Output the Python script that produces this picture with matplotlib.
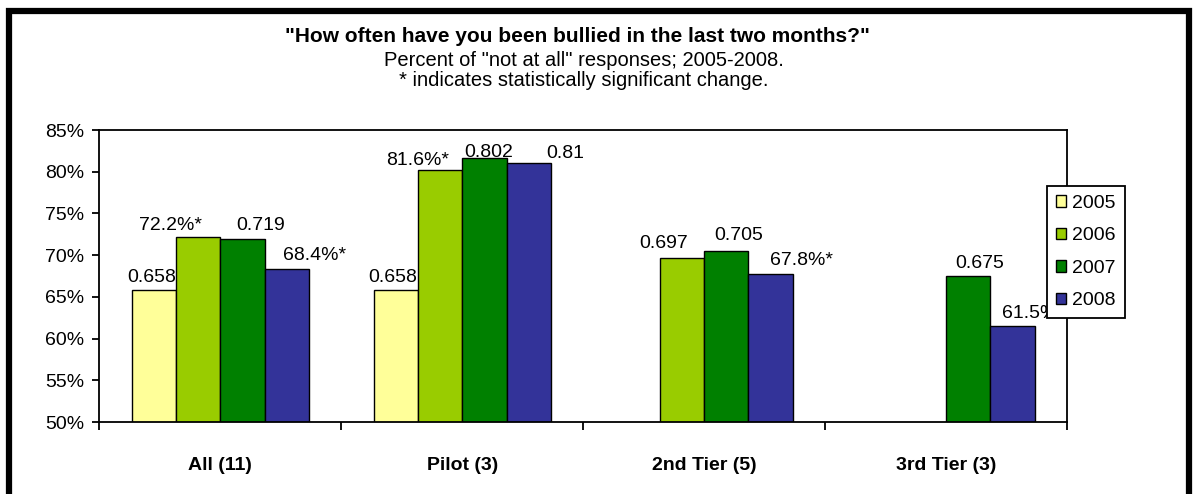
import matplotlib.pyplot as plt
import matplotlib.patches as patches
import numpy as np

plt.rcParams['font.family'] = ['Liberation Sans', 'DejaVu Sans']

categories = ['All (11)', 'Pilot (3)', '2nd Tier (5)', '3rd Tier (3)']
years = ['2005', '2006', '2007', '2008']
colors = ['#FFFF99', '#99CC00', '#008000', '#333399']

# bar heights per year (nan = no bar)
v2005 = [0.658, 0.658, np.nan, np.nan]
v2006 = [0.722, 0.802, 0.697, np.nan]
v2007 = [0.719, 0.816, 0.705, 0.675]
v2008 = [0.684, 0.810, 0.678, 0.615]

# data labels as printed on the chart
l2005 = ['0.658', '0.658', None, None]
l2006 = ['72.2%*', '81.6%*', '0.697', None]
l2007 = ['0.719', '0.802', '0.705', '0.675']
l2008 = ['68.4%*', '0.81', '67.8%*', '61.5%*']

values = [v2005, v2006, v2007, v2008]
labels = [l2005, l2006, l2007, l2008]

# label nudges in points (dx, dy) - the labels were dragged around in the original
nudge = [
    [(-2, 6), (-2, 6), None, None],
    [(-20, 5), (-16, 4), (-13, 7), None],
    [(13, 7), (3, 1), (9, 8), (8, 6)],
    [(20, 6), (26, 4), (22, 6), (15, 6)],
]

fig = plt.figure(figsize=(11.97, 4.94), dpi=100)
ax = fig.add_axes([0.0831, 0.1457, 0.8083, 0.5911])

x = np.arange(len(categories))
w = 0.183
for j in range(4):
    xs = x + (j - 1.5) * w
    ax.bar(xs, values[j], w, color=colors[j], edgecolor='black',
           lw=1, label=years[j], zorder=2)
    for i, (xi, v, t) in enumerate(zip(xs, values[j], labels[j])):
        if t is not None:
            ax.annotate(t, (xi, v), xytext=nudge[j][i], textcoords='offset points',
                        ha='center', va='baseline', fontsize=14, zorder=1)

ax.set_ylim(0.5, 0.85)
ax.set_xlim(-0.5, 3.5)
yt = np.arange(0.5, 0.851, 0.05)
ax.set_yticks(yt)
ax.set_yticklabels(['%d%%' % round(t * 100) for t in yt], fontsize=14)
ax.set_xticks(np.arange(-0.5, 3.6, 1.0))
ax.set_xticklabels([])
ax.set_xticks(x, minor=True)
ax.set_xticklabels(categories, minor=True, fontsize=14, fontweight='bold')
ax.tick_params(axis='x', which='minor', length=0, pad=25)
ax.tick_params(axis='x', which='major', length=6, width=1.3, direction='out')
ax.tick_params(axis='y', length=5, width=1.3, direction='out', pad=6)
for s in ax.spines.values():
    s.set_linewidth(1.3)
    s.set_color('black')

leg = fig.legend(*ax.get_legend_handles_labels(), loc='upper left',
                 bbox_to_anchor=(1047 / 1197, 1 - 186 / 494), fontsize=14,
                 frameon=True, fancybox=False, edgecolor='black', framealpha=1,
                 handlelength=0.55, handleheight=0.55, handletextpad=0.3,
                 labelspacing=0.8, borderpad=0.45, borderaxespad=0)
leg.get_frame().set_linewidth(1.3)

fig.text(0.4825, 1 - 42 / 494, '"How often have you been bullied in the last two months?"',
         ha='center', va='baseline', fontsize=15, fontweight='bold')
fig.text(0.4880, 1 - 66 / 494, 'Percent of "not at all" responses; 2005-2008.',
         ha='center', va='baseline', fontsize=14.5)
fig.text(0.4880, 1 - 86 / 494, '* indicates statistically significant change.',
         ha='center', va='baseline', fontsize=14.5)

# thick outer frame
fig.patches.append(patches.Rectangle((0.0075, -0.05), 0.9862, 1.0287,
                                     transform=fig.transFigure, fill=False,
                                     lw=4.5, edgecolor='black'))

fig.savefig('out.png', dpi=100)
